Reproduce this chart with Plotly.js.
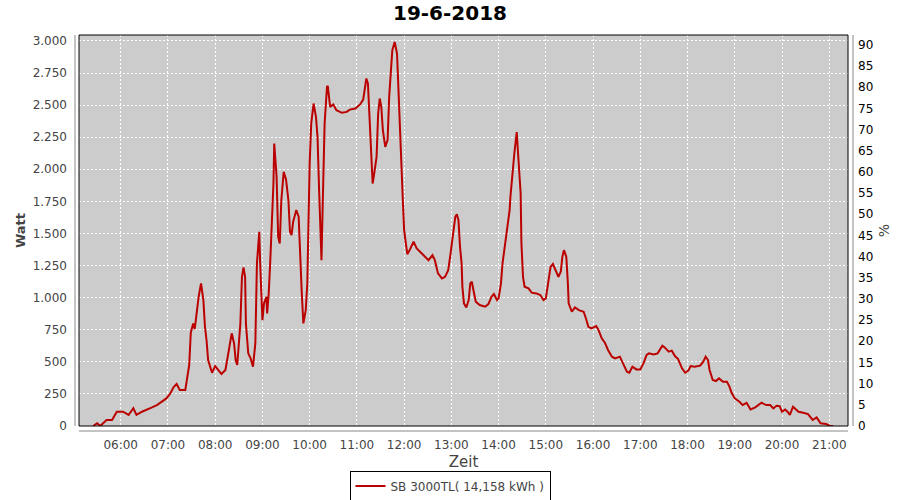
<!DOCTYPE html>
<html>
<head>
<meta charset="utf-8">
<script src="https://cdn.plot.ly/plotly-3.0.1.min.js"></script>
<style>html,body{margin:0;padding:0;background:#fff;}#chart{width:900px;height:500px;}</style>
</head>
<body>
<div id="chart"></div>
<script>
const chartDate = "2018-06-19";
const chartTitle = "19-6-2018";
const seriesName = "SB 3000TL( 14,158 kWh )";
const nominalWatt = 3300;

const times = [
"05:25","05:30","05:34","05:42","05:49","05:55","06:03","06:10","06:16","06:20",
"06:27","06:33","06:39","06:46","06:52","06:58","07:03","07:07","07:11","07:15",
"07:22","07:25","07:27","07:29","07:31","07:32","07:34","07:36","07:39","07:42",
"07:45","07:47","07:49","07:51","07:56","08:00","08:04","08:08","08:13","08:17",
"08:21","08:24","08:26","08:28","08:32","08:34","08:36","08:38","08:39","08:42",
"08:45","08:48","08:51","08:53","08:56","08:57","09:00","09:02","09:05","09:06",
"09:08","09:10","09:12","09:14","09:15","09:18","09:20","09:22","09:24","09:27",
"09:30","09:33","09:35","09:37","09:39","09:43","09:46","09:48","09:50","09:52",
"09:55","09:57","09:59","10:00","10:02","10:05","10:08","10:10","10:12","10:14",
"10:15","10:17","10:19","10:22","10:23","10:26","10:30","10:34","10:41","10:47",
"10:51","10:58","11:04","11:08","11:10","11:12","11:14","11:17","11:19","11:20",
"11:22","11:25","11:27","11:29","11:31","11:33","11:36","11:39","11:41","11:43",
"11:45","11:48","11:51","11:52","11:53","11:56","11:58","12:00","12:02","12:04",
"12:07","12:12","12:16","12:20","12:26","12:31","12:36","12:39","12:43","12:48",
"12:52","12:56","12:59","13:02","13:05","13:07","13:09","13:11","13:13","13:14",
"13:16","13:19","13:22","13:24","13:26","13:28","13:31","13:36","13:43","13:47",
"13:51","13:54","13:58","14:00","14:03","14:05","14:08","14:11","14:14","14:15",
"14:17","14:20","14:23","14:26","14:28","14:29","14:31","14:33","14:38","14:42",
"14:48","14:53","14:57","15:00","15:03","15:06","15:09","15:13","15:16","15:19",
"15:21","15:23","15:26","15:28","15:29","15:33","15:37","15:42","15:48","15:51",
"15:54","15:58","16:04","16:07","16:11","16:15","16:19","16:24","16:28","16:34",
"16:38","16:43","16:46","16:50","16:55","17:00","17:04","17:08","17:11","17:17",
"17:22","17:25","17:28","17:31","17:36","17:40","17:44","17:48","17:53","17:57",
"18:01","18:04","18:09","18:16","18:20","18:23","18:26","18:28","18:32","18:36",
"18:40","18:45","18:50","18:53","18:56","19:00","19:06","19:10","19:15","19:20",
"19:26","19:34","19:40","19:45","19:49","19:53","19:57","20:00","20:04","20:07",
"20:10","20:14","20:21","20:27","20:33","20:39","20:44","20:49","20:56","21:01",
"21:05"
];

const watt = [
0,21,0,47,47,111,111,86,138,86,
111,125,143,163,189,215,254,301,327,280,
280,384,475,727,773,799,755,877,1007,1111,
981,773,670,514,415,467,436,405,436,579,
722,643,514,475,799,1162,1235,1162,799,566,
527,462,643,1267,1513,1290,825,955,1007,877,
1033,1292,1578,1889,2200,1941,1474,1422,1759,1980,
1920,1759,1513,1487,1590,1682,1630,1267,1033,799,
900,1111,1812,2045,2357,2512,2409,2252,1837,1422,
1292,1837,2357,2642,2650,2486,2505,2460,2440,2447,
2465,2473,2505,2543,2616,2707,2668,2305,2097,1889,
1967,2097,2434,2551,2486,2305,2175,2227,2564,2720,
2927,2992,2900,2745,2564,2097,1812,1526,1422,1339,
1370,1435,1383,1357,1318,1292,1331,1292,1189,1150,
1162,1214,1344,1474,1630,1650,1604,1396,1267,1085,
955,924,981,1111,1124,1059,968,942,929,950,
1007,1028,981,994,1111,1267,1396,1526,1682,1785,
1941,2123,2290,2019,1812,1422,1162,1085,1072,1039,
1033,1020,981,994,1111,1240,1262,1202,1162,1202,
1318,1370,1318,1111,955,890,924,903,890,838,
773,760,778,747,683,649,592,540,527,540,
488,423,415,462,441,441,488,553,566,558,
566,592,625,612,579,587,545,522,449,415,
431,467,462,470,501,540,514,436,358,350,
371,345,345,311,259,215,189,163,181,129,
145,181,163,163,137,158,155,111,129,111,
86,150,111,103,93,47,67,21,16,0,
0
];

const xTickFirst = "06:00";
const xRangeStart = "05:07:00";
const xRangeEnd = "21:23:50";
const yMaxWatt = 3046;

const xs = times.map(t => chartDate + " " + t);
const pct = watt.map(w => w / nominalWatt * 100);

const font = "DejaVu Sans, Arial, sans-serif";
const gridDash = "2px,2px";

const traces = [
  {
    x: xs, y: watt, type: "scatter", mode: "lines", name: seriesName,
    line: {color: "#bb0000", width: 2, shape: "linear"},
    hoverinfo: "x+y"
  },
  {
    x: xs, y: pct, type: "scatter", mode: "lines", yaxis: "y2",
    line: {color: "rgba(0,0,0,0)", width: 0}, showlegend: false, hoverinfo: "skip"
  }
];

const layout = {
  width: 900, height: 500,
  margin: {l: 79, r: 52, t: 35, b: 74, pad: 0},
  paper_bgcolor: "#ffffff",
  plot_bgcolor: "#cccccc",
  separators: ",.",
  font: {family: font, size: 12, color: "#444444"},
  title: {
    text: "<b>" + chartTitle + "</b>",
    font: {family: font, size: 20, color: "#000000"},
    x: 0.5, xref: "container", xanchor: "center",
    y: 1 - 13/500, yref: "container", yanchor: "middle"
  },
  xaxis: {
    type: "date",
    range: [chartDate + " " + xRangeStart, chartDate + " " + xRangeEnd],
    tick0: chartDate + " " + xTickFirst,
    dtick: 3600000,
    tickformat: "%H:%M",
    showgrid: true, gridcolor: "#ffffff", gridwidth: 1, griddash: gridDash,
    zeroline: false, showline: false,
    ticks: "", ticklabelstandoff: 10,
    tickfont: {family: font, size: 12, color: "#444444"},
    title: {text: "Zeit", font: {family: font, size: 15, color: "#444444"}, standoff: 6}
  },
  yaxis: {
    range: [0, yMaxWatt],
    tick0: 0, dtick: 250,
    tickformat: ",d",
    showgrid: true, gridcolor: "#ffffff", gridwidth: 1, griddash: gridDash,
    zeroline: false, showline: false,
    ticks: "", ticklabelstandoff: 11,
    tickfont: {family: font, size: 12, color: "#444444"},
    title: {text: "<b>Watt</b>", font: {family: font, size: 13, color: "#444444"}, standoff: 4}
  },
  yaxis2: {
    overlaying: "y", side: "right",
    range: [0, yMaxWatt / nominalWatt * 100],
    tick0: 0, dtick: 5,
    showgrid: false, zeroline: false, showline: false,
    ticks: "", ticklabelstandoff: 9,
    tickfont: {family: font, size: 12, color: "#000000"},
    title: {text: "%", font: {family: font, size: 14, color: "#444444"}, standoff: 6}
  },
  showlegend: true,
  legend: {
    orientation: "h",
    xref: "container", x: 0.5, xanchor: "center",
    yref: "container", y: 1 - 486/500, yanchor: "middle",
    bgcolor: "#ffffff", bordercolor: "#000000", borderwidth: 1,
    font: {family: font, size: 12, color: "#444444"},
    itemwidth: 30, tracegroupgap: 0
  },
  shapes: [
    {type: "rect", xref: "paper", yref: "paper", x0: 0, x1: 1, y0: 0, y1: 1,
     line: {color: "#000000", width: 1}, layer: "above"},
    {type: "line", xref: "paper", yref: "paper", x0: -4/769, x1: -4/769, y0: 0, y1: 1,
     line: {color: "#888888", width: 1}},
    {type: "line", xref: "paper", yref: "paper", x0: 0, x1: 1, y0: -5/391, y1: -5/391,
     line: {color: "#888888", width: 1}},
    {type: "line", xref: "paper", yref: "paper", x0: 1 + 5/769, x1: 1 + 5/769, y0: 0, y1: 1,
     line: {color: "#888888", width: 1}}
  ]
};

Plotly.newPlot("chart", traces, layout, {displayModeBar: false, staticPlot: true});
</script>
</body>
</html>
